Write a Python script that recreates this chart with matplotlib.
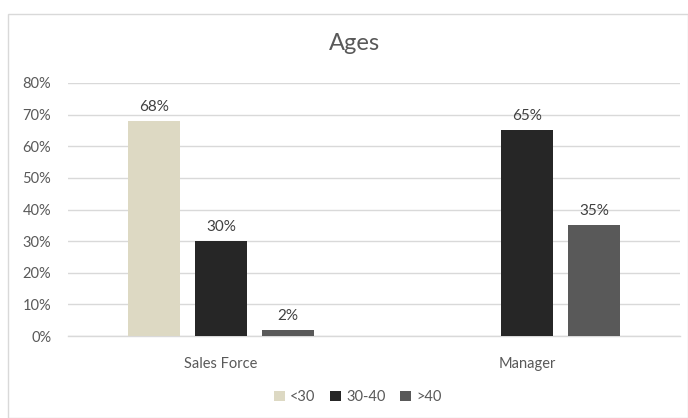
import matplotlib.pyplot as plt
import numpy as np
from matplotlib.patches import Rectangle

plt.rcParams['font.family'] = ['Lato', 'DejaVu Sans']

categories = ["Sales Force", "Manager"]
series_names = ["<30", "30-40", ">40"]
under_30 = [0.68, 0.0]
from_30_to_40 = [0.30, 0.65]
over_40 = [0.02, 0.35]
colors = ["#DDD9C3", "#262626", "#595959"]

text_col = "#595959"
grid_col = "#D9D9D9"

fig = plt.figure(figsize=(6.88, 4.18), dpi=100)
# outer chart border
fig.patches.append(Rectangle((8 / 688, 0.0), 680 / 688, 1 - 14 / 418,
                             transform=fig.transFigure, fill=False,
                             edgecolor=grid_col, linewidth=1.0))

ax = fig.add_axes([68 / 688, 1 - 336 / 418, 612 / 688, 253 / 418])

x = np.arange(len(categories))
width = 0.173
step = 0.219
series = [under_30, from_30_to_40, over_40]
for i, (vals, name, c) in enumerate(zip(series, series_names, colors)):
    pos = x + (i - 1) * step
    bars = ax.bar(pos, vals, width, color=c, label=name, zorder=3)
    for b, v in zip(bars, vals):
        if v == 0:
            continue
        ax.text(b.get_x() + b.get_width() / 2, v + 0.032, f"{v:.0%}",
                ha="center", va="baseline", fontsize=11, color="#404040")

ax.set_xlim(-0.5, 1.5)
ax.set_ylim(0, 0.8)
ax.set_yticks(np.arange(0, 0.81, 0.1))
ax.set_yticklabels([f"{t:.0%}" for t in np.arange(0, 0.81, 0.1)])
ax.set_xticks(x)
ax.set_xticklabels(categories)
ax.tick_params(axis="both", length=0, colors=text_col, labelsize=10.5)
ax.tick_params(axis="x", pad=15)
ax.tick_params(axis="y", pad=12)
ax.yaxis.grid(True, color=grid_col, linewidth=1.0, zorder=0)
for s in ["top", "right", "left"]:
    ax.spines[s].set_visible(False)
ax.spines["bottom"].set_color(grid_col)
ax.spines["bottom"].set_linewidth(1.0)

fig.text(354 / 688, 1 - 44 / 418, "Ages", ha="center", va="center",
         fontsize=17, color=text_col)

fig.legend(loc="center", bbox_to_anchor=(358 / 688, 1 - 397 / 418),
           ncol=3, frameon=False, fontsize=10.5, handlelength=0.75,
           handleheight=0.75, handletextpad=0.35, columnspacing=1.0,
           labelcolor=text_col)

fig.savefig("out.png", dpi=100)
